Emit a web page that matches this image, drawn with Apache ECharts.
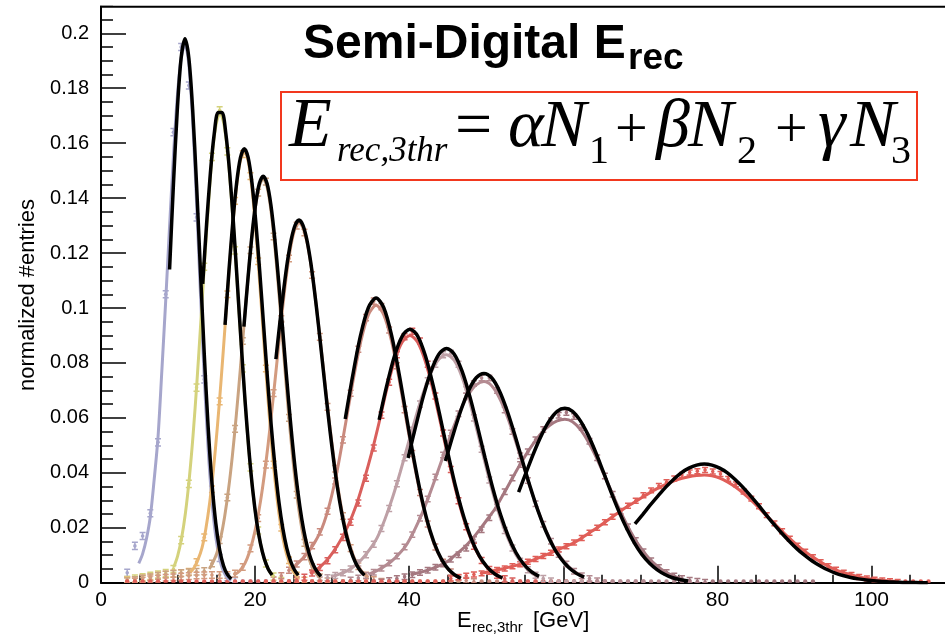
<!DOCTYPE html>
<html>
<head>
<meta charset="utf-8">
<script src="https://cdn.jsdelivr.net/npm/echarts@6/dist/echarts.min.js"></script>
<style>
  html, body { margin: 0; padding: 0; background: #fff; width: 945px; height: 635px; overflow: hidden; }
  /* the drawing surface is larger than the page so the frame can run past its right and top edges */
  #chart { position: absolute; left: 0; top: -40px; width: 1100px; height: 800px; }
</style>
</head>
<body>
<div id="chart"></div>
<script>
// Normalized energy distributions (1 GeV bins) for eleven beam energies,
// each with a full-range fit (coloured) and a core Gaussian fit (black).

const xTicks = [0, 20, 40, 60, 80, 100];
const yTicks = [0, 0.02, 0.04, 0.06, 0.08, 0.1, 0.12, 0.14, 0.16, 0.18, 0.2];

const colors = ['#a6a6cc', '#d4d27c', '#e9b672', '#c9a381', '#d39b7f', '#c98a7e',
                '#d95f5c', '#bea0a6', '#b48b92', '#a57880', '#e05e58'];

// first bin centre of each histogram, bin width 1 GeV
const binX0 = [3.4, 3.4, 3.4, 3.4, 3.4, 21.4, 24.4, 27.4, 31.4, 35.4, 3.4];
const binWidth = 1;
// statistical error shown on every filled bin
const errs = [0.0013, 0.0013, 0.0012, 0.0012, 0.0012, 0.0011, 0.0011, 0.0011, 0.001, 0.001, 0.0009];

// histogram contents
const pts1 = [0.0036, 0.0134, 0.017, 0.0253, 0.0511, 0.105, 0.164, 0.195, 0.181, 0.133, 0.074, 0.03, 0.009, 0.002, 0.0006,
  0, 0, 0, 0, 0, 0, 0, 0, 0, 0];
const pts2 = [0.001, 0.0015, 0.002, 0.0025, 0.003, 0.0035, 0.005, 0.0155, 0.036, 0.071, 0.115, 0.155, 0.172, 0.157, 0.121,
  0.078, 0.042, 0.019, 0.007, 0.0022, 0.0006, 0, 0, 0, 0, 0, 0, 0, 0, 0];
const pts3 = [0.0008, 0.001, 0.0015, 0.002, 0.0025, 0.003, 0.0033, 0.0035, 0.004, 0.0075, 0.0165, 0.034, 0.066, 0.105,
  0.139, 0.156, 0.148, 0.117, 0.078, 0.043, 0.02, 0.0082, 0.0026, 0.0008, 0, 0, 0, 0, 0, 0, 0, 0];
const pts4 = [0.0005, 0.001, 0.0015, 0.002, 0.0025, 0.003, 0.0032, 0.0035, 0.0038, 0.004, 0.0042, 0.007, 0.0155, 0.031,
  0.056, 0.088, 0.121, 0.142, 0.146, 0.126, 0.094, 0.06, 0.032, 0.0145, 0.0057, 0.002, 0.0005, 0, 0, 0, 0, 0, 0, 0, 0, 0, 0];
const pts5 = [0, 0.0004, 0.0008, 0.0012, 0.0015, 0.0018, 0.002, 0.0022, 0.0024, 0.0026, 0.0027, 0.0028, 0.0028, 0.0028,
  0.0033, 0.0057, 0.0125, 0.0235, 0.043, 0.069, 0.096, 0.118, 0.13, 0.1275, 0.112, 0.0895, 0.064, 0.0415, 0.0243, 0.0126,
  0.006, 0.0026, 0.001, 0.0003, 0, 0, 0, 0, 0, 0, 0, 0, 0, 0];
const pts6 = [0, 0.001, 0.0025, 0.0045, 0.0068, 0.0095, 0.0135, 0.0185, 0.026, 0.037, 0.052, 0.069, 0.085, 0.0965, 0.1025,
  0.1005, 0.092, 0.079, 0.063, 0.047, 0.0328, 0.0214, 0.013, 0.0074, 0.0039, 0.0019, 0.0008, 0.0003,
  0, 0, 0, 0, 0, 0, 0, 0, 0, 0, 0, 0];
const pts7 = [0, 0.001, 0.002, 0.0035, 0.0055, 0.008, 0.012, 0.0165, 0.022, 0.029, 0.038, 0.049, 0.061, 0.073, 0.083, 0.0895,
  0.0915, 0.088, 0.0795, 0.068, 0.0545, 0.0412, 0.0298, 0.0204, 0.0133, 0.0081, 0.0048, 0.0027, 0.0014, 0.0006,
  0, 0, 0, 0, 0, 0, 0, 0, 0, 0, 0, 0];
const pts8 = [0, 0.001, 0.0018, 0.0026, 0.0036, 0.005, 0.0072, 0.0102, 0.014, 0.0197, 0.027, 0.036, 0.0455, 0.0555, 0.065,
  0.0735, 0.0795, 0.083, 0.0835, 0.0795, 0.0702, 0.06, 0.0486, 0.0374, 0.0274, 0.019, 0.0126, 0.0078, 0.0047, 0.0027,
  0.0015, 0.0006, 0, 0, 0, 0, 0, 0, 0, 0, 0, 0, 0, 0];
const pts9 = [0, 0.001, 0.0017, 0.0026, 0.0038, 0.0053, 0.0072, 0.0097, 0.013, 0.0175, 0.0235, 0.0305, 0.0385, 0.0465,
  0.0545, 0.0615, 0.068, 0.0725, 0.0745, 0.0745, 0.07, 0.0629, 0.055, 0.0462, 0.0372, 0.0287, 0.0213, 0.0151, 0.0103,
  0.0068, 0.0042, 0.0025, 0.0015, 0.0007, 0, 0, 0, 0, 0, 0, 0, 0, 0, 0, 0, 0];
const pts10 = [0, 0.0003, 0.0008, 0.0015, 0.0022, 0.0029, 0.0037, 0.0045, 0.0056, 0.0068, 0.0085, 0.0102, 0.0125, 0.0157,
  0.0193, 0.0236, 0.0282, 0.0331, 0.0381, 0.043, 0.0477, 0.052, 0.0558, 0.059, 0.061, 0.062, 0.0605, 0.0565, 0.0515,
  0.0455, 0.0388, 0.0322, 0.026, 0.0204, 0.0154, 0.0113, 0.008, 0.0055, 0.0037, 0.0024, 0.0015, 0.0009, 0.0005, 0.0002,
  0, 0, 0, 0, 0, 0, 0, 0, 0, 0, 0, 0, 0, 0];
const pts11 = [0, 0, 0, 0, 0, 0, 0, 0, 0, 0, 0, 0, 0, 0, 0, 0, 0, 0, 0, 0, 0, 0, 0, 0, 0, 0, 0, 0, 0, 0, 0, 0, 0, 0, 0, 0,
  0, 0, 0, 0, 0, 0,
  0.0015, 0.002, 0.0025, 0.003, 0.0034, 0.004, 0.0046, 0.0052, 0.006, 0.0067, 0.0076, 0.0086, 0.0097, 0.0109, 0.0121,
  0.0133, 0.0146, 0.0163, 0.0182, 0.02, 0.022, 0.024, 0.026, 0.028, 0.0298, 0.0318, 0.0336, 0.0352, 0.0366, 0.0379,
  0.0392, 0.0401, 0.0406, 0.041, 0.0405, 0.0396, 0.0378, 0.0358, 0.0332, 0.0306, 0.0278, 0.0246, 0.0216, 0.0187, 0.016,
  0.0135, 0.0113, 0.0093, 0.0075, 0.006, 0.0047, 0.0036, 0.0028, 0.0021, 0.0015, 0.0011, 0.0008, 0.0005, 0.0003,
  0, 0, 0, 0];
const pts = [pts1, pts2, pts3, pts4, pts5, pts6, pts7, pts8, pts9, pts10, pts11];

// full-range fit curves, sampled from fitX0 with step fitStep
const fitX0 = [4.9, 9.45, 11.6, 14.05, 17.2, 24.7, 27.1, 29.85, 34.7, 40.2, 49.3];
const fitStep = [0.5, 0.5, 0.5, 0.5, 0.5, 1, 1, 1, 1, 1, 1];
const fit1 = [0.007, 0.0105, 0.016, 0.024, 0.0375, 0.053, 0.0773, 0.1028, 0.1297, 0.1553, 0.1768, 0.191, 0.196, 0.1886,
  0.168, 0.1385, 0.1057, 0.0747, 0.0489, 0.0296, 0.0166, 0.0086, 0.0041, 0.0018, 0.0008];
const fit2 = [0.0057, 0.0098, 0.0161, 0.0252, 0.0377, 0.0537, 0.073, 0.0947, 0.117, 0.138, 0.156, 0.167, 0.171, 0.167,
  0.156, 0.139, 0.119, 0.0971, 0.0758, 0.0564, 0.0402, 0.0274, 0.0178, 0.0111, 0.0066, 0.0037, 0.002];
const fit3 = [0.0038, 0.0055, 0.0085, 0.0126, 0.0195, 0.029, 0.0414, 0.0566, 0.0742, 0.0933, 0.1125, 0.13, 0.1445, 0.1538,
  0.157, 0.1535, 0.1433, 0.128, 0.109, 0.0892, 0.0696, 0.0518, 0.0369, 0.0251, 0.0163, 0.0102, 0.006, 0.0034, 0.0019];
const fit4 = [0.005, 0.0075, 0.0109, 0.0165, 0.0241, 0.034, 0.0462, 0.0606, 0.0767, 0.0935, 0.11, 0.125, 0.1368, 0.1444,
  0.147, 0.1441, 0.1357, 0.1228, 0.1068, 0.0892, 0.0715, 0.0552, 0.0409, 0.0291, 0.0199, 0.0131, 0.0083, 0.005, 0.0029,
  0.0016];
const fit5 = [0.0028, 0.0036, 0.005, 0.0071, 0.0106, 0.0154, 0.0217, 0.0296, 0.0393, 0.0506, 0.0633, 0.0767, 0.0903,
  0.1033, 0.1146, 0.1234, 0.129, 0.131, 0.1293, 0.1243, 0.1166, 0.1064, 0.0946, 0.082, 0.0693, 0.057, 0.0457, 0.0357,
  0.0272, 0.0201, 0.0145, 0.0102, 0.007, 0.0047, 0.0031, 0.0019];
const fit6 = [0.005, 0.0075, 0.0105, 0.0145, 0.02, 0.029, 0.0415, 0.0572, 0.0733, 0.0876, 0.0975, 0.101, 0.0975, 0.088,
  0.074, 0.058, 0.0425, 0.029, 0.0185, 0.011, 0.0061, 0.0032, 0.0015];
const fit7 = [0.0035, 0.005, 0.0075, 0.011, 0.0155, 0.021, 0.028, 0.037, 0.047, 0.0584, 0.0706, 0.0808, 0.0876, 0.09,
  0.0875, 0.0805, 0.0701, 0.0577, 0.0449, 0.033, 0.023, 0.0152, 0.0095, 0.0056, 0.0031, 0.0016];
const fit8 = [0.0022, 0.003, 0.0042, 0.006, 0.0085, 0.012, 0.0164, 0.0231, 0.0311, 0.0404, 0.0504, 0.0603, 0.0693, 0.0766,
  0.0813, 0.083, 0.0809, 0.0749, 0.0658, 0.0549, 0.0435, 0.0328, 0.0234, 0.0159, 0.0102, 0.0063, 0.0036, 0.002];
const fit9 = [0.003, 0.0042, 0.0058, 0.0078, 0.0105, 0.014, 0.0192, 0.0254, 0.0326, 0.0404, 0.0484, 0.0562, 0.0631,
  0.0685, 0.072, 0.0732, 0.0717, 0.0673, 0.0607, 0.0525, 0.0435, 0.0346, 0.0264, 0.0193, 0.0135, 0.0091, 0.0059, 0.0036,
  0.0022];
const fit10 = [0.003, 0.0036, 0.0044, 0.0054, 0.0066, 0.0082, 0.0106, 0.013, 0.016, 0.0195, 0.0233, 0.0272, 0.0321,
  0.0371, 0.0421, 0.0468, 0.051, 0.0546, 0.0572, 0.0589, 0.0595, 0.0586, 0.0558, 0.0515, 0.0461, 0.0399, 0.0335, 0.0272,
  0.0214, 0.0163, 0.0121, 0.0086, 0.006, 0.004, 0.0026, 0.0016];
const fit11 = [0.0034, 0.004, 0.0046, 0.0052, 0.0059, 0.0066, 0.0075, 0.0085, 0.0096, 0.0108, 0.012, 0.0132, 0.0144,
  0.0161, 0.018, 0.0198, 0.0218, 0.0238, 0.0258, 0.0277, 0.0294, 0.0312, 0.0329, 0.0344, 0.0358, 0.037, 0.0379, 0.0386,
  0.039, 0.0392, 0.0389, 0.0381, 0.0367, 0.0349, 0.0327, 0.0302, 0.0275, 0.0246, 0.0218, 0.019, 0.0163, 0.0138, 0.0115,
  0.0095, 0.0077, 0.0061, 0.0048, 0.0037, 0.0029, 0.0022, 0.0016, 0.0012, 0.0009, 0.0006, 0.0004];
const fits = [fit1, fit2, fit3, fit4, fit5, fit6, fit7, fit8, fit9, fit10, fit11];

// core Gaussian fits, sampled from gausX0 with step gausStep
const gausX0 = [8.9, 13.2, 16.1, 18.55, 22.7, 31.7, 36.1, 39.85, 44.7, 54.2, 69.3];
const gausStep = [0.5, 0.5, 0.5, 0.5, 0.5, 1, 1, 1, 1, 1, 1];
const gaus1 = [0.114, 0.145, 0.172, 0.191, 0.198, 0.191, 0.172, 0.145, 0.114, 0.0833, 0.0569, 0.0363, 0.0216, 0.012,
  0.0062, 0.003, 0.00135];
const gaus2 = [0.1088, 0.1304, 0.1493, 0.1635, 0.1712, 0.1712, 0.1635, 0.1493, 0.1304, 0.1088, 0.0868, 0.0661, 0.0482,
  0.0335, 0.0223, 0.0142, 0.0086, 0.005, 0.0028];
const gaus3 = [0.0939, 0.1133, 0.131, 0.1454, 0.1547, 0.158, 0.1547, 0.1454, 0.131, 0.1133, 0.0939, 0.0746, 0.0569,
  0.0417, 0.0292, 0.0197, 0.0127, 0.0079, 0.0047, 0.0027];
const gaus4 = [0.0932, 0.11, 0.1253, 0.1375, 0.1453, 0.148, 0.1453, 0.1375, 0.1253, 0.11, 0.0932, 0.076, 0.0598, 0.0453,
  0.0331, 0.0233, 0.0158, 0.0103, 0.0065, 0.004, 0.0023];
const gaus5 = [0.0814, 0.0943, 0.1064, 0.117, 0.1251, 0.1302, 0.132, 0.1302, 0.1251, 0.117, 0.1064, 0.0943, 0.0814,
  0.0683, 0.0558, 0.0444, 0.0344, 0.026, 0.019, 0.0136, 0.0095, 0.0064, 0.0042, 0.0027];
const gaus6 = [0.0596, 0.0759, 0.0902, 0.1001, 0.1036, 0.1001, 0.0902, 0.0759, 0.0596, 0.0436, 0.0298, 0.019, 0.0113,
  0.0063, 0.0033, 0.0016];
const gaus7 = [0.0593, 0.0719, 0.0826, 0.0898, 0.0923, 0.0898, 0.0826, 0.0719, 0.0593, 0.0462, 0.0341, 0.0238, 0.0157,
  0.0098, 0.0058, 0.0032, 0.0017];
const gaus8 = [0.0454, 0.057, 0.068, 0.0771, 0.0832, 0.0853, 0.0832, 0.0771, 0.068, 0.057, 0.0454, 0.0344, 0.0248, 0.017,
  0.011, 0.0068, 0.004, 0.0023];
const gaus9 = [0.0443, 0.0539, 0.0627, 0.0699, 0.0746, 0.0762, 0.0746, 0.0699, 0.0627, 0.0539, 0.0443, 0.0349, 0.0263,
  0.019, 0.0131, 0.0087, 0.0055, 0.0034, 0.002];
const gaus10 = [0.033, 0.0403, 0.0475, 0.0539, 0.059, 0.0624, 0.0635, 0.0624, 0.059, 0.0539, 0.0475, 0.0403, 0.033,
  0.0261, 0.0199, 0.0146, 0.0103, 0.0071, 0.0047, 0.003, 0.0018, 0.0011, 0.0006];
const gaus11 = [0.0214, 0.0248, 0.0283, 0.0316, 0.0348, 0.0376, 0.04, 0.0417, 0.0428, 0.0432, 0.0428, 0.0417, 0.04,
  0.0376, 0.0348, 0.0316, 0.0283, 0.0248, 0.0214, 0.0182, 0.0152, 0.0124, 0.01, 0.0079, 0.0062, 0.0047, 0.0035, 0.0026,
  0.0019, 0.0014, 0.001, 0.0007, 0.0004, 0.0003, 0.0002, 0.0001, 0.0001, 0, 0];
const gaus = [gaus1, gaus2, gaus3, gaus4, gaus5, gaus6, gaus7, gaus8, gaus9, gaus10, gaus11];

// ---------------------------------------------------------------------------
const SANS = '"Liberation Sans", Arial, Helvetica, sans-serif';
const SERIF = '"Liberation Serif", "Times New Roman", Times, serif';

// the chart surface starts 40 px above the page; page coordinates are shifted by this
const OFFSET_Y = 40;
// plot frame: 7.705 px per GeV, 2747 px per unit of normalized entries
const PLOT_LEFT = 101, PX_PER_GEV = 7.705;
const PLOT_BOTTOM = 582.7 + OFFSET_Y, PX_PER_UNIT = 2747;
const X_MAX = 120, Y_MAX = 0.22;

const sampled = (x0, step, vals) => vals.map((v, k) => [+(x0 + k * step).toFixed(3), v]);

const series = [];
pts.forEach((arr, i) => {
  series.push({
    type: 'custom',
    z: 2,
    silent: true,
    clip: true,
    encode: { x: 0, y: 1 },
    data: sampled(binX0[i], binWidth, arr),
    renderItem: (params, api) => {
      const x = api.value(0), y = api.value(1);
      const c = api.coord([x, y]);
      const col = colors[i];
      if (y === 0) {
        return { type: 'circle', shape: { cx: c[0], cy: c[1] - 1.2, r: 2.2 }, style: { fill: col } };
      }
      const t = api.coord([x, y + errs[i]]);
      const b = api.coord([x, Math.max(0, y - errs[i])]);
      const ls = { stroke: col, lineWidth: 1.5 };
      return {
        type: 'group',
        children: [
          { type: 'line', shape: { x1: c[0], y1: t[1], x2: c[0], y2: b[1] }, style: ls },
          { type: 'line', shape: { x1: c[0] - 3, y1: t[1], x2: c[0] + 3, y2: t[1] }, style: ls },
          { type: 'line', shape: { x1: c[0] - 3, y1: b[1], x2: c[0] + 3, y2: b[1] }, style: ls },
          { type: 'circle', shape: { cx: c[0], cy: c[1], r: 1.8 }, style: { fill: col } }
        ]
      };
    }
  });
});
fits.forEach((arr, i) => {
  series.push({
    type: 'line', z: 3, silent: true, showSymbol: false, smooth: 0.3, clip: true,
    data: sampled(fitX0[i], fitStep[i], arr),
    lineStyle: { color: colors[i], width: 3 }
  });
});
gaus.forEach((arr, i) => {
  series.push({
    type: 'line', z: 4, silent: true, showSymbol: false, smooth: 0.3, clip: true,
    data: sampled(gausX0[i], gausStep[i], arr),
    lineStyle: { color: '#000', width: 3.5 }
  });
});

// text placed by baseline; canvas "middle" sits about 0.34 em above the baseline
function txt(text, x, base, size, family, extra) {
  return {
    type: 'text', x: x, y: base - 0.34 * size, z: 100, silent: true,
    style: {
      text: text, fill: '#000',
      font: (extra || '') + ' ' + size + 'px ' + family,
      textAlign: 'left', textVerticalAlign: 'middle', verticalAlign: 'middle'
    }
  };
}

const pageItems = [
  // frame top edge and mask above it
  { type: 'rect', z: 90, silent: true, shape: { x: 60, y: -40, width: 1000, height: 45.8 }, style: { fill: '#fff' } },
  { type: 'line', z: 91, silent: true, shape: { x1: 100, y1: 6.7, x2: 1000, y2: 6.7 }, style: { stroke: '#000', lineWidth: 2 } },

  // heading
  txt('Semi-Digital E', 303, 61.5, 48, SANS, 'bold'),
  txt('rec', 628, 71.5, 37, SANS, 'bold'),

  // formula box
  { type: 'rect', z: 95, silent: true, shape: { x: 281, y: 92, width: 636, height: 88 },
    style: { fill: '#fff', stroke: '#f2381e', lineWidth: 2 } },
  txt('E', 289, 151, 70, SERIF, 'italic'),
  txt('rec,3thr', 337, 164, 35, SERIF, 'italic'),
  txt('=', 455, 151, 66, SERIF, ''),
  txt('\u03b1', 508, 151, 68, SERIF, 'italic'),
  txt('N', 541, 151, 68, SERIF, 'italic'),
  txt('1', 589, 166, 40, SERIF, ''),
  txt('+', 615, 151, 58, SERIF, ''),
  txt('\u03b2', 656, 151, 68, SERIF, 'italic'),
  txt('N', 688, 151, 68, SERIF, 'italic'),
  txt('2', 737, 166, 40, SERIF, ''),
  txt('+', 775, 151, 58, SERIF, ''),
  txt('\u03b3', 818, 151, 70, SERIF, 'italic'),
  txt('N', 850, 151, 68, SERIF, 'italic'),
  txt('3', 891, 166, 40, SERIF, ''),

  // axis titles
  txt('E', 457, 628, 22, SANS, ''),
  txt('rec,3thr', 472, 633, 15, SANS, ''),
  txt('[GeV]', 533, 628, 22, SANS, ''),
  {
    type: 'text', x: 28, y: 295, rotation: Math.PI / 2, z: 100, silent: true,
    style: { text: 'normalized #entries', fill: '#000', font: '22px ' + SANS,
             textAlign: 'center', textVerticalAlign: 'middle', verticalAlign: 'middle' }
  }
];

const chart = echarts.init(document.getElementById('chart'), null, { renderer: 'canvas' });
chart.setOption({
  animation: false,
  backgroundColor: '#fff',
  grid: {
    left: PLOT_LEFT,
    top: PLOT_BOTTOM - Y_MAX * PX_PER_UNIT,
    width: X_MAX * PX_PER_GEV,
    height: Y_MAX * PX_PER_UNIT,
    containLabel: false
  },
  xAxis: {
    type: 'value', min: 0, max: X_MAX, interval: 20,
    axisLine: { onZero: false, lineStyle: { color: '#000', width: 2 } },
    axisTick: { inside: true, length: 17, lineStyle: { color: '#000', width: 1.5 } },
    minorTick: { show: true, splitNumber: 4, length: 8, lineStyle: { color: '#000', width: 1.5 } },
    splitLine: { show: false },
    axisLabel: {
      color: '#000', fontSize: 21, fontFamily: SANS, margin: 7,
      formatter: v => (xTicks.indexOf(v) >= 0 ? String(v) : '')
    }
  },
  yAxis: {
    type: 'value', min: 0, max: Y_MAX, interval: 0.02,
    axisLine: { onZero: false, lineStyle: { color: '#000', width: 2 } },
    axisTick: { inside: true, length: 25, lineStyle: { color: '#000', width: 1.5 } },
    minorTick: { show: true, splitNumber: 4, length: 12, lineStyle: { color: '#000', width: 1.5 } },
    splitLine: { show: false },
    axisLabel: {
      color: '#000', fontSize: 20, fontFamily: SANS, margin: 12,
      formatter: v => {
        const r = Math.round(v * 1000) / 1000;
        return yTicks.some(t => Math.abs(t - r) < 1e-9) ? String(r) : '';
      }
    }
  },
  graphic: [{ type: 'group', x: 0, y: OFFSET_Y, children: pageItems }],
  series: series
});
</script>
</body>
</html>
